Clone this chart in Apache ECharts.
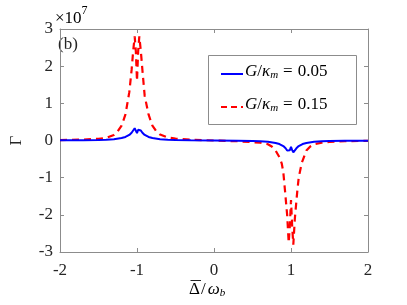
<!DOCTYPE html>
<html>
<head>
<meta charset="utf-8">
<script src="https://cdn.jsdelivr.net/npm/echarts@6/dist/echarts.min.js"></script>
<style>html,body{margin:0;padding:0;background:#fff}#c{width:407px;height:305px}</style>
</head>
<body>
<div id="c"></div>
<script>
// values are in units of 1e7
var xTicks = [-2, -1, 0, 1, 2];
var yTicks = [-3, -2, -1, 0, 1, 2, 3];
var legendValues = ['0.05', '0.15'];

var xBlue = [-2.0, -1.7, -1.5, -1.4, -1.3, -1.2, -1.15, -1.1, -1.07, -1.05, -1.03, -1.015, -1.0, -0.985, -0.97, -0.95, -0.93, -0.9, -0.85, -0.8, -0.7, -0.6, -0.5, -0.3, 0.0,
             0.3, 0.5, 0.6, 0.7, 0.8, 0.85, 0.9, 0.93, 0.95, 0.97, 0.985, 1.0, 1.015, 1.03, 1.05, 1.07, 1.1, 1.15, 1.2, 1.3, 1.4, 1.5, 1.7, 2.0];
var yBlue = [0.004, 0.008, 0.014, 0.02, 0.035, 0.065, 0.095, 0.15, 0.21, 0.27, 0.33, 0.29, 0.2, 0.29, 0.33, 0.27, 0.21, 0.15, 0.095, 0.065, 0.035, 0.02, 0.012, 0.005, 0.0,
             -0.005, -0.012, -0.02, -0.035, -0.065, -0.095, -0.15, -0.21, -0.27, -0.32, -0.26, -0.17, -0.26, -0.32, -0.27, -0.21, -0.15, -0.095, -0.065, -0.035, -0.02, -0.014, -0.008, -0.004];

var xRed = [-2.0, -1.7, -1.5, -1.4, -1.3, -1.25, -1.2, -1.15, -1.1, -1.07, -1.05, -1.03, -1.015, -1.0, -0.985, -0.97, -0.95, -0.93, -0.9, -0.85, -0.8, -0.75, -0.7, -0.6, -0.5, -0.3, 0.0,
            0.3, 0.5, 0.6, 0.7, 0.75, 0.8, 0.85, 0.88, 0.9, 0.92, 0.95, 0.97, 0.985, 1.0, 1.015, 1.03, 1.05, 1.08, 1.1, 1.14, 1.2, 1.25, 1.3, 1.4, 1.5, 1.7, 2.0];
var yRed = [0.01, 0.025, 0.045, 0.07, 0.15, 0.25, 0.4, 0.7, 1.3, 1.9, 2.4, 2.8, 2.4, 1.6, 2.4, 2.8, 2.4, 1.9, 1.2, 0.7, 0.4, 0.25, 0.16, 0.08, 0.05, 0.02, 0.0,
            -0.02, -0.045, -0.06, -0.1, -0.16, -0.27, -0.45, -0.62, -0.85, -1.3, -2.0, -2.75, -2.3, -1.6, -2.3, -2.8, -2.1, -1.4, -1.0, -0.6, -0.27, -0.16, -0.1, -0.06, -0.04, -0.02, -0.008];

function pairs(xs, ys) { return xs.map(function (x, i) { return [x, ys[i]]; }); }

var font = 'Liberation Serif';
var frame = '#8c8c8c';
var txt = '#262626';
var blue = '#0000ff', red = '#ff0000';

var rich = {
  i: { fontFamily: font, fontSize: 17, fontStyle: 'italic', color: txt },
  n: { fontFamily: font, fontSize: 17, color: txt },
  sl: { fontFamily: font, fontSize: 17, color: txt, padding: [0, 2, 0, 1] },
  e: { fontFamily: font, fontSize: 17, color: txt, padding: [0, 5, 0, 5] },
  s: { fontFamily: font, fontSize: 11, fontStyle: 'italic', color: txt, padding: [8, 0, 0, 0] }
};
var tickRich = { t: { fontFamily: font, fontSize: 17, color: txt } };
function tickFmt(v) { return '{t|' + v + '}'; }
function legendText(v) { return '{i|G}{n|/}{i|κ}{s|m}{e|=}{n|' + v + '}'; }

var axisCommon = {
  type: 'value',
  axisLine: { onZero: false, lineStyle: { color: frame, width: 1 } },
  axisTick: { inside: true, length: 4, lineStyle: { color: frame } },
  splitLine: { show: false }
};

var chart = echarts.init(document.getElementById('c'), null, { renderer: 'canvas' });
chart.setOption({
  animation: false,
  backgroundColor: '#fff',
  textStyle: { fontFamily: font },
  grid: { left: 53, right: 39, top: 29, bottom: 53, show: false },
  xAxis: [Object.assign({}, axisCommon, {
    min: xTicks[0], max: xTicks[xTicks.length - 1], interval: 1, position: 'bottom',
    axisLabel: { formatter: tickFmt, rich: tickRich, margin: 10 }
  }), Object.assign({}, axisCommon, {
    position: 'top', min: xTicks[0], max: xTicks[xTicks.length - 1], interval: 1,
    axisLabel: { show: false }
  })],
  yAxis: [Object.assign({}, axisCommon, {
    min: yTicks[0], max: yTicks[yTicks.length - 1], interval: 1, position: 'left',
    axisLabel: { formatter: tickFmt, rich: tickRich, margin: 7 },
    name: 'Γ', nameLocation: 'middle', nameGap: 35,
    nameTextStyle: { fontFamily: font, fontSize: 17, color: txt }
  }), Object.assign({}, axisCommon, {
    position: 'right', min: yTicks[0], max: yTicks[yTicks.length - 1], interval: 1,
    axisLabel: { show: false }
  })],
  graphic: [
    { type: 'text', left: 55, top: 5, style: { text: '{a|×10}{b|7}', rich: {
      a: { fontFamily: font, fontSize: 17, color: txt, padding: [8, 0, 0, 0] },
      b: { fontFamily: font, fontSize: 12, color: txt, padding: [0, 0, 8, 0] } } } },
    { type: 'text', left: 58, top: 36, style: { text: '(b)', fontFamily: font, fontSize: 17, fill: txt } },
    // x-axis title: bar-Delta / omega_b
    { type: 'text', left: 189, top: 281, style: { text: '{n|Δ}{sl|/}{i|ω}{s|b}', rich: rich } },
    { type: 'line', shape: { x1: 190.5, y1: 280.5, x2: 201, y2: 280.5 }, style: { stroke: txt, lineWidth: 1 } },
    // legend
    { type: 'rect', shape: { x: 208.5, y: 55.5, width: 148, height: 69 }, style: { fill: '#fff', stroke: frame, lineWidth: 1 }, z: 10 },
    { type: 'line', shape: { x1: 221, y1: 74, x2: 243, y2: 74 }, style: { stroke: blue, lineWidth: 2 }, z: 11 },
    { type: 'line', shape: { x1: 221, y1: 107, x2: 243, y2: 107 }, style: { stroke: red, lineWidth: 2.2, lineDash: [6, 4] }, z: 11 },
    { type: 'text', left: 245, top: 63, style: { text: legendText(legendValues[0]), rich: rich }, z: 11 },
    { type: 'text', left: 245, top: 96, style: { text: legendText(legendValues[1]), rich: rich }, z: 11 }
  ],
  series: [{
    name: 'G/κm = ' + legendValues[0], type: 'line', data: pairs(xBlue, yBlue),
    symbol: 'none', smooth: false,
    lineStyle: { color: blue, width: 2 }, itemStyle: { color: blue }, z: 3
  }, {
    name: 'G/κm = ' + legendValues[1], type: 'line', data: pairs(xRed, yRed),
    symbol: 'none', smooth: false,
    lineStyle: { color: red, width: 2.2, type: [7, 5] }, itemStyle: { color: red }, z: 2
  }]
});
</script>
</body>
</html>
